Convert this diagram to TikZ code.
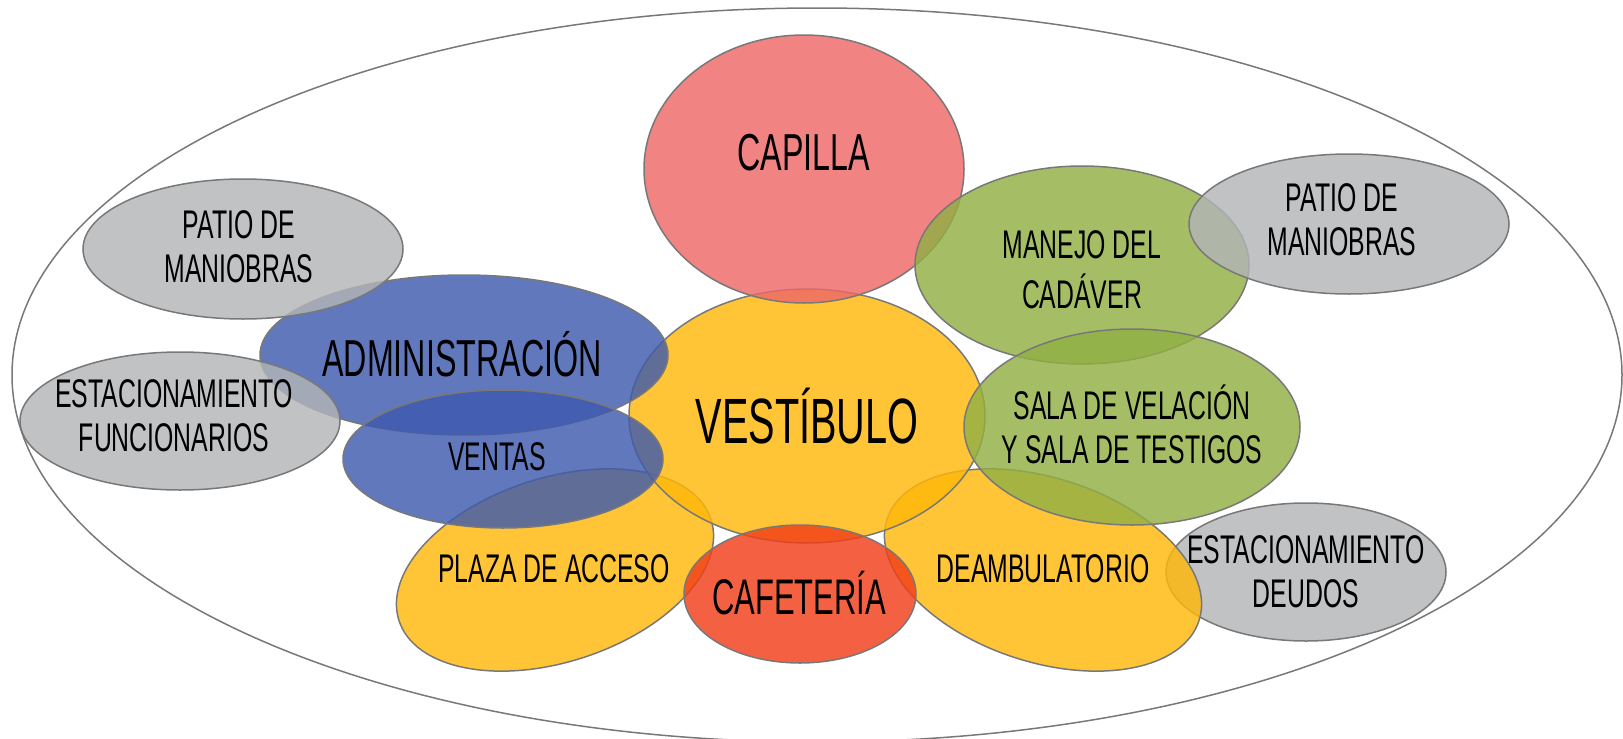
\documentclass[tikz,border=0pt]{standalone}
\usepackage{fontspec}
\setmainfont{Liberation Sans}[FakeStretch=0.62]
\usepackage{xcolor}
\usepackage{tikz}
\usetikzlibrary{shapes,positioning,calc}

\definecolor{edgegray}{RGB}{120,120,120}
\definecolor{capred}{RGB}{238,104,104}
\definecolor{amber}{RGB}{255,184,10}
\definecolor{adminblue}{RGB}{62,90,174}
\definecolor{olive}{RGB}{145,176,68}
\definecolor{stone}{RGB}{178,180,182}
\definecolor{cafered}{RGB}{242,62,25}

\begin{document}
\begin{tikzpicture}[
    x=0.5pt, y=-0.5pt,
    zone/.style={ellipse, draw=edgegray, line width=0.75pt, fill opacity=0.82, inner sep=0pt},
    tag/.style={align=center, inner sep=0pt, font=\fontsize{20}{22}\selectfont},
    big/.style={inner sep=0pt, font=\fontsize{#1}{#1}\selectfont}
]
\useasboundingbox (0,0) rectangle (1623,739);

% Site
\node (site) [ellipse, draw=edgegray, line width=0.75pt, minimum width=805pt, minimum height=367pt] at (817,375) {};

% Zones
\node (estacdeu) [zone, fill=stone, minimum width=140pt, minimum height=69pt] at (1306,572) {};
\node (plaza) [zone, fill=amber, minimum width=164pt, minimum height=92pt, rotate=18] at (555,570) {};
\node (deamb) [zone, fill=amber, minimum width=164pt, minimum height=92pt, rotate=-18] at (1043,570) {};
\node (vestibulo) [zone, fill=amber, minimum width=178pt, minimum height=127pt] at (807,416) {};
\node (capilla) [zone, fill=capred, minimum width=160pt, minimum height=134pt] at (804,169) {};
\node (admin) [zone, fill=adminblue, minimum width=204pt, minimum height=80pt] at (464,355) {};
\node (ventas) [zone, fill=adminblue, minimum width=160pt, minimum height=69pt] at (503,459) {};
\node (patioizq) [zone, fill=stone, minimum width=160pt, minimum height=70pt] at (243,249) {};
\node (estacfun) [zone, fill=stone, minimum width=160pt, minimum height=69pt] at (180,421) {};
\node (manejo) [zone, fill=olive, minimum width=167pt, minimum height=99pt] at (1082,265) {};
\node (sala) [zone, fill=olive, minimum width=168pt, minimum height=98pt] at (1132,427) {};
\node (patioder) [zone, fill=stone, minimum width=160pt, minimum height=70pt] at (1349,224) {};
\node (cafeteria) [zone, fill=cafered, minimum width=116pt, minimum height=69pt] at (800,594) {};

% Labels
\node (vestibulotxt) [big=32] at (vestibulo) {VESTÍBULO};
\node (capillatxt) [big=26] at ($(capilla)+(0,-16)$) {CAPILLA};
\node (admintxt) [big=26] at ($(admin)+(-2,-1)$) {ADMINISTRACIÓN};
\node (ventastxt) [tag] at ($(ventas)+(-6,-2)$) {VENTAS};
\node (patioizqtxt) [tag] at ($(patioizq)+(-4,-2)$) {PATIO DE\\MANIOBRAS};
\node (estacfuntxt) [tag] at ($(estacfun)+(-6,-5)$) {ESTACIONAMIENTO\\FUNCIONARIOS};
\node (plazatxt) [tag] at ($(plaza)+(-1,-1)$) {PLAZA DE ACCESO};
\node (cafeteriatxt) [big=25] at ($(cafeteria)+(-1,-1)$) {CAFETERÍA};
\node (deambtxt) [tag] at ($(deamb)+(0,-1)$) {DEAMBULATORIO};
\node (manejotxt) [tag, font=\fontsize{20}{25}\selectfont] at ($(manejo)+(0,5)$) {MANEJO DEL\\CADÁVER};
\node (salatxt) [tag] at ($(sala)+(0,-3)$) {SALA DE VELACIÓN\\Y SALA DE TESTIGOS};
\node (patiodertxt) [tag] at ($(patioder)+(-7,-4)$) {PATIO DE\\MANIOBRAS};
\node (estacdeutxt) [tag] at (estacdeu) {ESTACIONAMIENTO\\DEUDOS};

\end{tikzpicture}
\end{document}
